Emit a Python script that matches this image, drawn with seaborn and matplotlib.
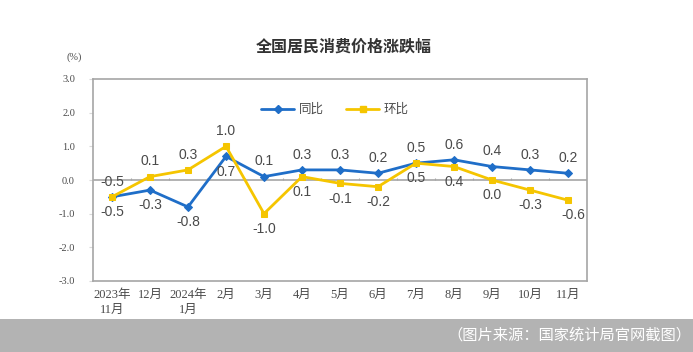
import matplotlib
matplotlib.use("Agg")
import matplotlib.pyplot as plt
import numpy as np
import pandas as pd
import seaborn as sns
from matplotlib.lines import Line2D
from matplotlib.patches import Rectangle

months = ["2023年\n11月", "12月", "2024年\n1月", "2月", "3月", "4月", "5月",
          "6月", "7月", "8月", "9月", "10月", "11月"]
yoy = [-0.5, -0.3, -0.8, 0.7, 0.1, 0.3, 0.3, 0.2, 0.5, 0.6, 0.4, 0.3, 0.2]
mom = [-0.5, 0.1, 0.3, 1.0, -1.0, 0.1, -0.1, -0.2, 0.5, 0.4, 0.0, -0.3, -0.6]
# label position: 1 above, -1 below
yoy_side = [-1, -1, -1, -1, 1, 1, 1, 1, 1, 1, 1, 1, 1]
mom_side = [1, 1, 1, 1, -1, -1, -1, -1, -1, -1, -1, -1, -1]
y_ticks = [3.0, 2.0, 1.0, 0.0, -1.0, -2.0, -3.0]

BLUE = "#1f6ec8"
YELLOW = "#f5c500"
GREY = "#a6a6a6"
TEXT = "#4a4a4a"

sns.set_style("white")
plt.rcParams["font.family"] = ["Liberation Sans", "Noto Sans CJK SC", "DejaVu Sans"]

df = pd.DataFrame({"idx": np.arange(len(months)), "同比": yoy, "环比": mom})

fig = plt.figure(figsize=(6.93, 3.52), dpi=100)
ax = fig.add_axes([93 / 693, 1 - 281 / 352, 494 / 693, 202 / 352])

sns.lineplot(data=df, x="idx", y="同比", ax=ax, color=BLUE, lw=2,
             marker="D", markersize=4, markeredgecolor=BLUE)
sns.lineplot(data=df, x="idx", y="环比", ax=ax, color=YELLOW, lw=2,
             marker="s", markersize=4, markeredgecolor=YELLOW)

ax.set_xlim(-0.5, len(months) - 0.5)
ax.set_ylim(-3, 3)
ax.axhline(0, color=GREY, lw=1.2, zorder=0)
ax.vlines(np.arange(0.5, len(months) - 1), 0, 0.07, color=GREY, lw=0.8, zorder=0)

for i, (v, s) in enumerate(zip(yoy, yoy_side)):
    ax.annotate(f"{v:.1f}", (i, v), xytext=(0, 11 * s), textcoords="offset points",
                ha="center", va="center", fontsize=10, color=TEXT)
for i, (v, s) in enumerate(zip(mom, mom_side)):
    dx = 4 if i == len(mom) - 1 else 0
    ax.annotate(f"{v:.1f}", (i, v), xytext=(dx, 11 * s), textcoords="offset points",
                ha="center", va="center", fontsize=10, color=TEXT)

ax.set_xticks(np.arange(len(months)))
ax.set_xticklabels(months, fontsize=9,
                   family=["Liberation Serif", "Noto Sans CJK SC"], color=TEXT,
                   linespacing=1.25, va="top")
ax.set_yticks(y_ticks)
ax.set_yticklabels([f"{t:.1f}" for t in y_ticks], fontsize=7.5,
                   family=["Liberation Serif"], color=TEXT)
ax.tick_params(axis="x", length=0, pad=6)
ax.tick_params(axis="y", length=3, color="#d9d9d9", pad=10, left=True)
ax.set_xlabel("")
ax.set_ylabel("")
for sp in ax.spines.values():
    sp.set_color(GREY)
    sp.set_linewidth(1.2)

handles = [Line2D([], [], color=BLUE, lw=2, marker="D", markersize=4),
           Line2D([], [], color=YELLOW, lw=2, marker="s", markersize=4)]
ax.legend(handles, ["同比", "环比"], loc="center", bbox_to_anchor=(0.49, 0.846),
          ncol=2, frameon=False, fontsize=9, handlelength=2.6,
          columnspacing=1.8, handletextpad=0.4, labelcolor=TEXT)

fig.text(344 / 693, 1 - 47 / 352, "全国居民消费价格涨跌幅", ha="center", va="center",
         fontsize=11.5, fontweight="bold", color="#333333")
fig.text(74 / 693, 1 - 57 / 352, "(%)", ha="center", va="center", fontsize=7.5,
         family=["Liberation Serif"], color=TEXT)

fig.patches.append(Rectangle((0, 0), 1, 33 / 352, transform=fig.transFigure,
                             facecolor="#b3b3b3", edgecolor="none", zorder=0))
fig.text(0.997, 1 - 335 / 352, "（图片来源：国家统计局官网截图）", ha="right",
         va="center", fontsize=11, color="white")

fig.savefig("out.png", dpi=100)
